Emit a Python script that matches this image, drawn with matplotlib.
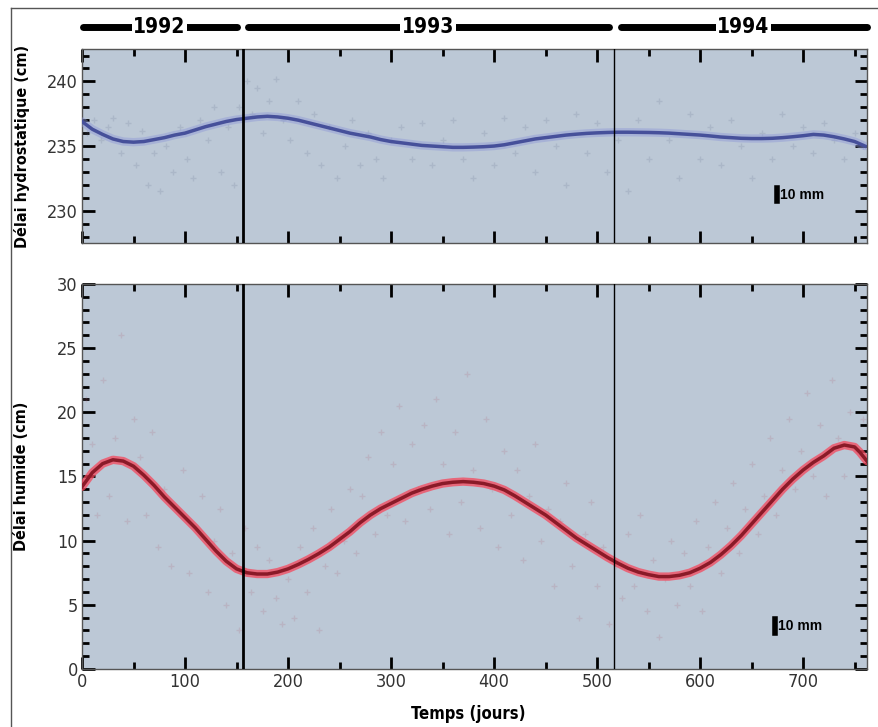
import matplotlib
matplotlib.use("Agg")
import matplotlib.pyplot as plt
from matplotlib.lines import Line2D
from matplotlib.ticker import MultipleLocator
import matplotlib.transforms as mtransforms

plt.rcParams['font.family'] = ['DejaVu Sans Condensed', 'DejaVu Sans']
plt.rcParams['font.stretch'] = 'condensed'

# smooth fits (every 10 days)
hyd_curve_days = list(range(0, 770, 10))
hyd_curve = [236.9, 236.3, 235.9, 235.55, 235.35, 235.3, 235.35, 235.5, 235.65, 235.85,
             236.0, 236.25, 236.5, 236.7, 236.9, 237.05, 237.15, 237.25, 237.3, 237.25,
             237.15, 237.0, 236.8, 236.6, 236.4, 236.2, 236.0, 235.85, 235.7, 235.5,
             235.35, 235.25, 235.15, 235.05, 235.0, 234.95, 234.9, 234.9, 234.92, 234.95,
             235.0, 235.1, 235.25, 235.4, 235.55, 235.65, 235.75, 235.85, 235.92, 235.98,
             236.02, 236.05, 236.07, 236.07, 236.06, 236.05, 236.03, 236.0, 235.95, 235.9,
             235.85, 235.78, 235.7, 235.65, 235.6, 235.58, 235.58, 235.6, 235.65, 235.72,
             235.8, 235.9, 235.85, 235.72, 235.55, 235.35, 235.0]

wet_curve_days = list(range(0, 760, 10)) + [755, 762]
wet_curve_days.sort()
wet_curve = [14.2, 15.3, 16.0, 16.3, 16.2, 15.8, 15.1, 14.3, 13.4, 12.6,
             11.8, 11.0, 10.1, 9.2, 8.4, 7.8, 7.5, 7.4, 7.4, 7.55,
             7.8, 8.15, 8.55, 9.0, 9.5, 10.1, 10.7, 11.4, 12.0, 12.5,
             12.9, 13.3, 13.7, 14.0, 14.25, 14.45, 14.55, 14.6, 14.55, 14.45,
             14.25, 13.95, 13.5, 13.0, 12.5, 12.0, 11.4, 10.8, 10.2, 9.7,
             9.2, 8.7, 8.25, 7.85, 7.55, 7.35, 7.2, 7.2, 7.3, 7.5,
             7.85, 8.3, 8.9, 9.6, 10.4, 11.3, 12.2, 13.1, 14.0, 14.8,
             15.5, 16.1, 16.6, 17.2, 17.45, 17.3, 16.9, 16.2]

# faint daily measurements
hyd_days = [5, 12, 18, 25, 30, 38, 45, 52, 58, 64, 70, 76, 82, 88, 95, 102, 108, 115,
            122, 128, 135, 142, 148, 152, 160, 165, 170, 176, 182, 188, 195, 202, 210,
            218, 225, 232, 240, 248, 255, 262, 270, 278, 285, 292, 300, 310, 320, 330,
            340, 350, 360, 370, 380, 390, 400, 410, 420, 430, 440, 450, 460, 470, 480,
            490, 500, 510, 520, 530, 540, 550, 560, 570, 580, 590, 600, 610, 620, 630,
            640, 650, 660, 670, 680, 690, 700, 710, 720, 730, 740, 750, 758]
hyd_vals = [236.0, 237.0, 235.5, 236.5, 237.2, 234.5, 236.8, 233.5, 236.2, 232.0, 234.5,
            231.5, 235.0, 233.0, 236.5, 234.0, 232.5, 237.0, 235.5, 238.0, 233.0, 236.5,
            232.0, 238.0, 240.0, 237.5, 239.5, 236.0, 238.5, 240.2, 237.0, 235.5, 238.5,
            234.5, 237.5, 233.5, 236.5, 232.5, 235.0, 237.0, 233.5, 236.0, 234.0, 232.5,
            235.5, 236.5, 234.0, 236.8, 233.5, 235.5, 237.0, 234.0, 232.5, 236.0, 233.5,
            237.2, 234.5, 236.5, 233.0, 237.0, 235.0, 232.0, 237.5, 234.5, 236.8, 233.0,
            235.5, 231.5, 237.0, 234.0, 238.5, 235.5, 232.5, 237.5, 234.0, 236.5, 233.5,
            237.0, 235.0, 232.5, 236.0, 234.0, 237.5, 235.0, 236.5, 234.5, 236.8, 235.5,
            234.0, 236.0, 235.0]

wet_days = [4, 10, 15, 20, 26, 32, 38, 44, 50, 56, 62, 68, 74, 80, 86, 92, 98, 104, 110,
            116, 122, 128, 134, 140, 146, 152, 158, 164, 170, 176, 182, 188, 194, 200,
            206, 212, 218, 224, 230, 236, 242, 248, 254, 260, 266, 272, 278, 284, 290,
            296, 302, 308, 314, 320, 326, 332, 338, 344, 350, 356, 362, 368, 374, 380,
            386, 392, 398, 404, 410, 416, 422, 428, 434, 440, 446, 452, 458, 464, 470,
            476, 482, 488, 494, 500, 506, 512, 518, 524, 530, 536, 542, 548, 554, 560,
            566, 572, 578, 584, 590, 596, 602, 608, 614, 620, 626, 632, 638, 644, 650,
            656, 662, 668, 674, 680, 686, 692, 698, 704, 710, 716, 722, 728, 734, 740,
            746, 752, 758]
wet_vals = [21.0, 17.5, 12.0, 22.5, 13.5, 18.0, 26.0, 11.5, 19.5, 16.5, 12.0, 18.5, 9.5,
            14.0, 8.0, 12.5, 15.5, 7.5, 11.0, 13.5, 6.0, 10.0, 12.5, 5.0, 9.0, 3.0, 11.0,
            6.0, 9.5, 4.5, 8.5, 5.5, 3.5, 7.0, 4.0, 9.5, 6.0, 11.0, 3.0, 8.0, 12.5, 7.5,
            10.0, 14.0, 9.0, 13.5, 16.5, 10.5, 18.5, 12.0, 16.0, 20.5, 11.5, 17.5, 14.0,
            19.0, 12.5, 21.0, 16.0, 10.5, 18.5, 13.0, 23.0, 15.5, 11.0, 19.5, 14.0, 9.5,
            17.0, 12.0, 15.5, 8.5, 13.5, 17.5, 10.0, 12.5, 6.5, 11.5, 14.5, 8.0, 4.0, 10.5,
            13.0, 6.5, 9.5, 3.5, 8.0, 5.5, 10.5, 6.5, 12.0, 4.5, 8.5, 2.5, 7.0, 10.0, 5.0,
            9.0, 6.5, 11.5, 4.5, 9.5, 13.0, 7.5, 11.0, 14.5, 9.0, 12.5, 16.0, 10.5, 13.5,
            18.0, 12.0, 15.5, 19.5, 14.0, 17.0, 21.5, 15.0, 19.0, 13.5, 22.5, 18.0, 15.0,
            20.0, 17.0, 19.5]

years = ["1992", "1993", "1994"]
year_spans = [(0, 150), (160, 512), (522, 762)]
year_breaks = [156, 516]

bg = "#bcc8d6"
fig = plt.figure(figsize=(8.79, 7.27), dpi=100)
ax1 = fig.add_axes([0.0933, 0.6657, 0.893, 0.2668])
ax2 = fig.add_axes([0.0933, 0.0798, 0.893, 0.5296])

for ax in (ax1, ax2):
    ax.set_facecolor(bg)
    ax.set_xlim(0, 762)
    ax.xaxis.set_major_locator(MultipleLocator(100))
    ax.xaxis.set_minor_locator(MultipleLocator(50))
    ax.yaxis.set_major_locator(MultipleLocator(5))
    ax.yaxis.set_minor_locator(MultipleLocator(1))
    ax.tick_params(which="both", direction="in", top=True, right=True, width=2,
                   color="black", labelsize=13, labelcolor="#333333", pad=3)
    ax.tick_params(which="major", length=9)
    ax.tick_params(which="minor", length=5)
    for s in ax.spines.values():
        s.set_color("#555555")
        s.set_linewidth(1)
    ax.axvline(year_breaks[0], color="black", lw=2, zorder=5)
    ax.axvline(year_breaks[1], color="black", lw=1, zorder=5)

# top panel: hydrostatic delay
ax1.set_ylim(227.5, 242.5)
ax1.tick_params(axis="x", labelbottom=False)
ax1.plot(hyd_days, hyd_vals, "+", color="#6a7490", ms=5, alpha=0.2, zorder=2)
ax1.plot(hyd_curve_days, hyd_curve, color="#8e98d8", lw=6, alpha=0.45,
         solid_capstyle="round", zorder=3)
ax1.plot(hyd_curve_days, hyd_curve, color="#46509a", lw=2.5, zorder=4)

# bottom panel: wet delay
ax2.set_ylim(0, 30)
ax2.plot(wet_days, wet_vals, "+", color="#b07080", ms=5, alpha=0.22, zorder=2)
ax2.plot(wet_curve_days, wet_curve, color="#f5475c", lw=6, alpha=0.75,
         solid_capstyle="round", zorder=3)
ax2.plot(wet_curve_days, wet_curve, color="#8a1a28", lw=2.5, zorder=4)
ax2.set_xticks([0, 100, 200, 300, 400, 500, 600, 700])

# 10 mm scale markers
ax1.add_line(Line2D([675, 675], [230.75, 231.75], color="black", lw=4))
ax1.text(678, 231.25, "10 mm", fontsize=10, fontweight="bold", family="Liberation Sans",
         stretch="normal", va="center", ha="left")
ax2.add_line(Line2D([673, 673], [2.8, 3.9], color="black", lw=4))
ax2.text(676, 3.35, "10 mm", fontsize=10, fontweight="bold", family="Liberation Sans",
         stretch="normal", va="center", ha="left")

# year bars above the top panel
trans = mtransforms.blended_transform_factory(ax1.transData, ax1.transAxes)
for name, (a, b) in zip(years, year_spans):
    ax1.add_line(Line2D([a + 1, b], [1.113, 1.113], transform=trans, color="black",
                        lw=5, solid_capstyle="round", clip_on=False))
    ax1.text((a + b) / 2, 1.113, name, transform=trans, ha="center", va="center",
             fontsize=15, fontweight="bold", clip_on=False,
             bbox=dict(facecolor="white", edgecolor="none", pad=1))

# labels
fig.text(22 / 879, 1 - 146 / 727, "Délai hydrostatique (cm)", rotation=90,
         ha="center", va="center", fontsize=11.5, fontweight="bold")
fig.text(22 / 879, 1 - 476 / 727, "Délai humide (cm)", rotation=90,
         ha="center", va="center", fontsize=11.5, fontweight="bold")
fig.text(468 / 879, 1 - 714 / 727, "Temps (jours)", ha="center", va="center",
         fontsize=12, fontweight="bold")

# outer frame
fig.add_artist(Line2D([11 / 879, 1], [1 - 8 / 727, 1 - 8 / 727], color="#555555", lw=1))
fig.add_artist(Line2D([11 / 879, 11 / 879], [0, 1 - 8 / 727], color="#555555", lw=1))

fig.savefig("out.png", dpi=100)
